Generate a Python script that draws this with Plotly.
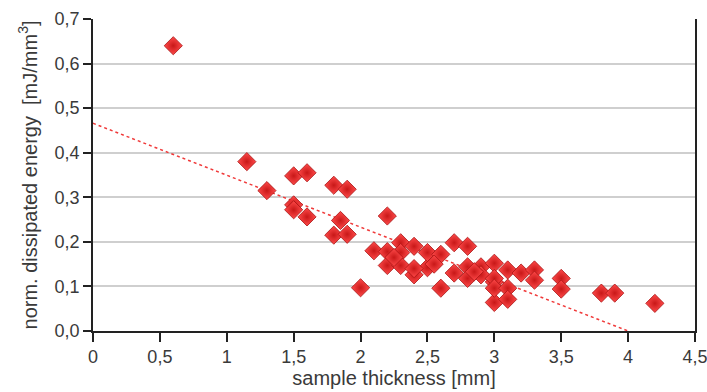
import plotly.graph_objects as go

# sample thickness [mm]
thickness = [0.6, 1.15, 1.3, 1.5, 1.6, 1.5, 1.5, 1.6, 1.8, 1.9, 1.85, 1.8, 1.9, 2.0,
             2.2, 2.1, 2.2, 2.3, 2.3, 2.4, 2.2, 2.3, 2.4, 2.5, 2.5, 2.6, 2.4, 2.7,
             2.8, 2.7, 2.8, 2.8, 2.9, 2.9, 3.0, 3.0, 3.0, 2.6, 3.0, 3.0, 3.1, 3.1,
             3.1, 3.2, 3.3, 3.3, 3.5, 3.5, 3.8, 3.9, 4.2, 2.85, 2.25, 2.55]
# normalised dissipated energy [mJ/mm^3]
energy = [0.640, 0.380, 0.315, 0.348, 0.355, 0.283, 0.272, 0.256, 0.327, 0.318, 0.248,
          0.215, 0.217, 0.097, 0.258, 0.180, 0.178, 0.198, 0.176, 0.190, 0.147, 0.147,
          0.126, 0.142, 0.176, 0.172, 0.140, 0.198, 0.190, 0.130, 0.144, 0.118, 0.144,
          0.126, 0.152, 0.110, 0.064, 0.096, 0.118, 0.096, 0.137, 0.096, 0.071, 0.130,
          0.137, 0.114, 0.118, 0.094, 0.085, 0.085, 0.062, 0.133, 0.165, 0.150]

# linear trend line end points
trend_x = [0.0, 4.0]
trend_y = [0.466, 0.0]

x_ticks = [0, 0.5, 1, 1.5, 2, 2.5, 3, 3.5, 4, 4.5]
y_ticks = [0.0, 0.1, 0.2, 0.3, 0.4, 0.5, 0.6, 0.7]

font_family = "Liberation Sans, Arial, sans-serif"
text_color = "#3a3a3a"

fig = go.Figure()
fig.add_trace(go.Scatter(
    x=trend_x, y=trend_y, mode="lines",
    line=dict(color="#f03a3a", width=1.5, dash="dot"),
    showlegend=False, hoverinfo="skip"))
fig.add_trace(go.Scatter(
    x=thickness, y=energy, mode="markers",
    marker=dict(symbol="diamond", size=14, color="#ff4a4a",
                gradient=dict(type="radial", color="#c81818"),
                line=dict(color="#a81212", width=0.8)),
    showlegend=False))

fig.update_layout(
    width=707, height=392,
    margin=dict(l=93, r=12, t=19, b=61),
    paper_bgcolor="white", plot_bgcolor="white",
    separators=",.",
    font=dict(family=font_family, size=18, color=text_color),
    xaxis=dict(
        range=[0, 4.5], tickvals=x_ticks, showgrid=False, zeroline=False,
        automargin=False, ticklabeloverflow="allow",
        showline=True, linecolor="#222222", linewidth=1.5,
        ticks="outside", ticklen=9, tickcolor="#222222", tickwidth=1.5,
        tickfont=dict(size=18, color=text_color),
        title=dict(text="sample thickness [mm]", font=dict(size=20, color=text_color), standoff=5),
    ),
    yaxis=dict(
        range=[0, 0.7], tickvals=y_ticks, tickformat=".1f",
        automargin=False, ticklabeloverflow="allow",
        showgrid=True, gridcolor="#cfcfcf", gridwidth=1.5, zeroline=False,
        showline=True, linecolor="#222222", linewidth=1.5, mirror=True,
        ticks="outside", ticklen=8, tickcolor="#222222", tickwidth=1.5,
        tickfont=dict(size=18, color=text_color),
        title=dict(text="norm. dissipated energy  [mJ/mm<sup>3</sup>]",
                   font=dict(size=20, color=text_color), standoff=12),
    ),
)

fig.write_html("out.html")
